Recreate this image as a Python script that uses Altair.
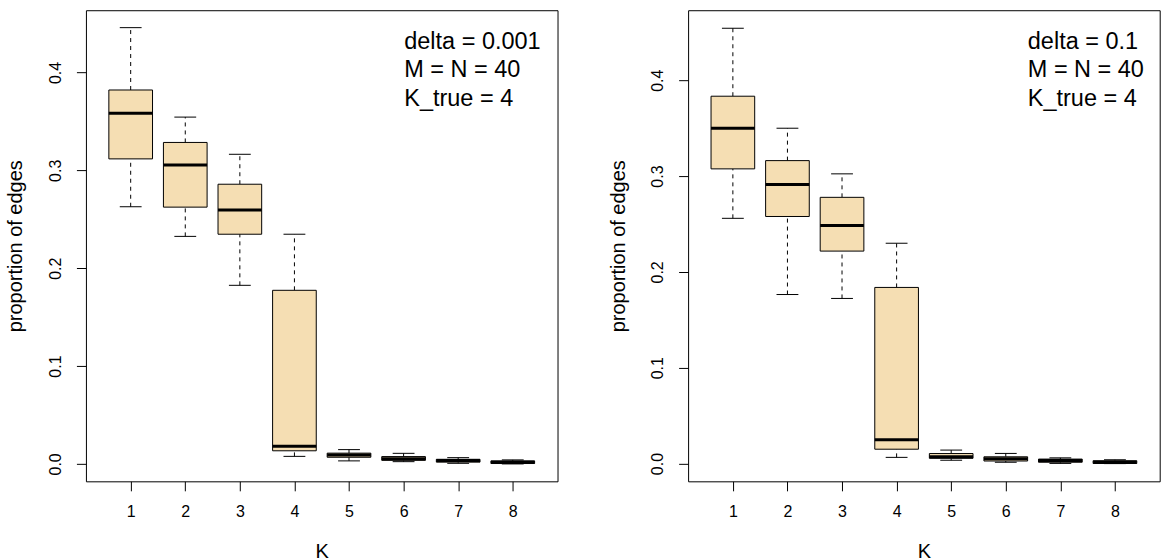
import altair as alt
import pandas as pd

FONT = "Liberation Sans"

K = [1, 2, 3, 4, 5, 6, 7, 8]

# left panel: delta = 0.001
left_lo  = [0.2628, 0.2325, 0.1825, 0.0077, 0.0031, 0.0023, 0.0006, 0.0000]
left_q1  = [0.3117, 0.2624, 0.2347, 0.0134, 0.0068, 0.0036, 0.0018, 0.0004]
left_med = [0.3584, 0.3055, 0.2595, 0.0180, 0.0092, 0.0054, 0.0034, 0.0016]
left_q3  = [0.3821, 0.3285, 0.2858, 0.1774, 0.0110, 0.0075, 0.0047, 0.0031]
left_hi  = [0.4458, 0.3544, 0.3164, 0.2347, 0.0146, 0.0108, 0.0064, 0.0041]

# right panel: delta = 0.1
right_lo  = [0.2559, 0.1764, 0.1723, 0.0065, 0.0035, 0.0014, 0.0002, 0.0000]
right_q1  = [0.3075, 0.2578, 0.2217, 0.0150, 0.0055, 0.0027, 0.0014, 0.0001]
right_med = [0.3499, 0.2912, 0.2485, 0.0250, 0.0072, 0.0050, 0.0033, 0.0013]
right_q3  = [0.3833, 0.3161, 0.2778, 0.1838, 0.0105, 0.0071, 0.0047, 0.0030]
right_hi  = [0.4542, 0.3499, 0.3023, 0.2299, 0.0141, 0.0106, 0.0060, 0.0040]

y_ticks = [0.0, 0.1, 0.2, 0.3, 0.4]
left_text = ["delta = 0.001", "M = N = 40", "K_true = 4"]
right_text = ["delta = 0.1", "M = N = 40", "K_true = 4"]

W = 472
H = 471.5


def panel(lo, q1, med, q3, hi, ydom, lines, text_x):
    df = pd.DataFrame({"K": K, "lo": lo, "q1": q1, "med": med, "q3": q3, "hi": hi})
    base = alt.Chart(df).transform_calculate(
        xl="datum.K - 0.4", xr="datum.K + 0.4",
        cl="datum.K - 0.2", cr="datum.K + 0.2",
    )
    xs = alt.Scale(domain=[0.18, 8.82], nice=False, zero=False)
    ys = alt.Scale(domain=ydom, nice=False, zero=False)
    xaxis = alt.Axis(
        values=K, format="d", title="K", grid=False, domain=False,
        tickSize=9.5, tickColor="black", tickWidth=1,
        labelPadding=21, labelBaseline="middle", labelAlign="center",
        labelFontSize=16, labelColor="black", labelFont=FONT,
        titleFont=FONT, titleFontSize=20, titleFontWeight="normal",
        titleColor="black", titleY=70, titleBaseline="middle",
    )
    yaxis = alt.Axis(
        values=y_ticks, format=".1f", title="proportion of edges",
        grid=False, domain=False,
        tickSize=9.5, tickColor="black", tickWidth=1,
        labelAngle=270, labelAlign="center", labelBaseline="middle",
        labelPadding=21, labelFontSize=16, labelColor="black", labelFont=FONT,
        titleFont=FONT, titleFontSize=20, titleFontWeight="normal",
        titleColor="black", titleX=-70, titleBaseline="middle", titleAngle=270,
    )

    def X(f):
        return alt.X(f, type="quantitative", scale=xs, axis=xaxis)

    def Y(f):
        return alt.Y(f, type="quantitative", scale=ys, axis=yaxis)

    upper = base.mark_rule(color="black", strokeWidth=1, strokeDash=[4, 4]).encode(
        x=X("K"), y=Y("q3"), y2="hi")
    lower = base.mark_rule(color="black", strokeWidth=1, strokeDash=[4, 4]).encode(
        x=X("K"), y=Y("lo"), y2="q1")
    cap_hi = base.mark_rule(color="black", strokeWidth=1).encode(
        x=X("cl"), x2="cr", y=Y("hi"))
    cap_lo = base.mark_rule(color="black", strokeWidth=1).encode(
        x=X("cl"), x2="cr", y=Y("lo"))
    box = base.mark_rect(fill="#F5DEB3", stroke="black", strokeWidth=1).encode(
        x=X("xl"), x2="xr", y=Y("q1"), y2="q3")
    median = base.mark_rule(color="black", strokeWidth=3).encode(
        x=X("xl"), x2="xr", y=Y("med"))
    txt = alt.Chart(alt.Data(values=[{}])).mark_text(
        text=lines, align="left", baseline="alphabetic", font=FONT,
        fontSize=23.5, lineHeight=28.8, color="black",
    ).encode(x=alt.value(text_x), y=alt.value(38.3))

    return alt.layer(upper, lower, cap_hi, cap_lo, box, median, txt).properties(
        width=W, height=H)


left = panel(left_lo, left_q1, left_med, left_q3, left_hi,
             [-0.0178, 0.4636], left_text, 318.6)
right = panel(right_lo, right_q1, right_med, right_q3, right_hi,
              [-0.0185, 0.4730], right_text, 340)

chart = alt.hconcat(left, right, spacing=48.7).properties(
    padding={"left": 5, "top": 9, "right": 0, "bottom": 0},
    background="white",
).configure_view(stroke="black", strokeWidth=1)

chart.save("out.html", embed_options={"renderer": "svg", "actions": False})
